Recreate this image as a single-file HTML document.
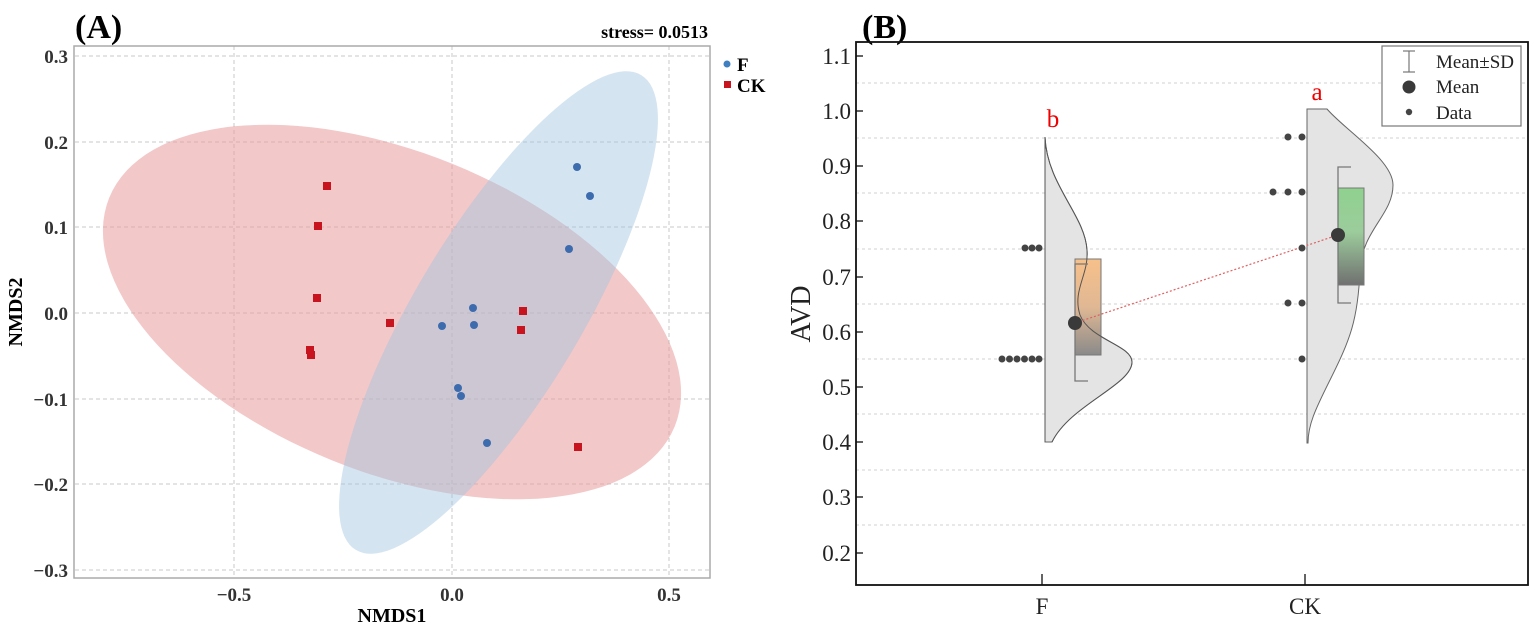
<!DOCTYPE html>
<html><head><meta charset="utf-8"><style>
html,body{margin:0;padding:0;background:#fff;}
svg{display:block;}
</style></head><body>
<svg width="1535" height="625" viewBox="0 0 1535 625" xmlns="http://www.w3.org/2000/svg">
<defs>
<linearGradient id="go" x1="0" y1="0" x2="0" y2="1"><stop offset="0" stop-color="#f7c08a"/><stop offset="0.5" stop-color="#e0b894"/><stop offset="1" stop-color="#8a8a8a"/></linearGradient>
<linearGradient id="gg" x1="0" y1="0" x2="0" y2="1"><stop offset="0" stop-color="#8fd18f"/><stop offset="0.45" stop-color="#9ccc9c"/><stop offset="1" stop-color="#707070"/></linearGradient>
</defs>
<!-- Panel A -->
<text x="75" y="38" font-family="Liberation Serif" font-weight="bold" font-size="34">(A)</text>
<text x="708" y="38" text-anchor="end" font-family="Liberation Serif" font-weight="bold" font-size="18">stress= 0.0513</text>
<g stroke="#c8c8c8" stroke-dasharray="4,3" stroke-width="1">
<line x1="75" x2="710" y1="56" y2="56"/><line x1="75" x2="710" y1="142" y2="142"/><line x1="75" x2="710" y1="227" y2="227"/><line x1="75" x2="710" y1="313" y2="313"/><line x1="75" x2="710" y1="399" y2="399"/><line x1="75" x2="710" y1="484" y2="484"/><line x1="75" x2="710" y1="570" y2="570"/>
<line x1="234" x2="234" y1="46" y2="578"/><line x1="452" x2="452" y1="46" y2="578"/><line x1="669" x2="669" y1="46" y2="578"/>
</g>
<ellipse cx="392" cy="312" rx="305" ry="160" transform="rotate(22 392 312)" fill="#e89a9c" fill-opacity="0.55"/>
<ellipse cx="498.5" cy="312.5" rx="277" ry="83" transform="rotate(-59 498.5 312.5)" fill="#9fc3e0" fill-opacity="0.45"/>
<rect x="74" y="46" width="636" height="532" fill="none" stroke="#aaa" stroke-width="1.5"/>
<g fill="#c8141e">
<rect x="323" y="182" width="8" height="8"/><rect x="314" y="222" width="8" height="8"/><rect x="313" y="294" width="8" height="8"/><rect x="386" y="319" width="8" height="8"/><rect x="519" y="307" width="8" height="8"/><rect x="517" y="326" width="8" height="8"/><rect x="306" y="346" width="8" height="8"/><rect x="307" y="351" width="8" height="8"/><rect x="574" y="443" width="8" height="8"/>
</g>
<g fill="#3d6cae">
<circle cx="577" cy="167" r="4"/><circle cx="590" cy="196" r="4"/><circle cx="569" cy="249" r="4"/><circle cx="473" cy="308" r="4"/><circle cx="474" cy="325" r="4"/><circle cx="442" cy="326" r="4"/><circle cx="458" cy="388" r="4"/><circle cx="461" cy="396" r="4"/><circle cx="487" cy="443" r="4"/>
</g>
<g font-family="Liberation Serif" font-weight="bold" font-size="19" fill="#333" text-anchor="end">
<text x="68" y="63">0.3</text><text x="68" y="149">0.2</text><text x="68" y="234">0.1</text><text x="68" y="320">0.0</text><text x="68" y="406">−0.1</text><text x="68" y="491">−0.2</text><text x="68" y="577">−0.3</text>
</g>
<g font-family="Liberation Serif" font-weight="bold" font-size="19" fill="#333" text-anchor="middle">
<text x="234" y="601">−0.5</text><text x="452" y="601">0.0</text><text x="669" y="601">0.5</text>
</g>
<text x="392" y="622" text-anchor="middle" font-family="Liberation Serif" font-weight="bold" font-size="20">NMDS1</text>
<text transform="translate(22 312) rotate(-90)" text-anchor="middle" font-family="Liberation Serif" font-weight="bold" font-size="20">NMDS2</text>
<circle cx="727" cy="64" r="3.5" fill="#3f7fc0"/>
<text x="737" y="71" font-family="Liberation Serif" font-weight="bold" font-size="19">F</text>
<rect x="724" y="81" width="7" height="7" fill="#c8141e"/>
<text x="737" y="92" font-family="Liberation Serif" font-weight="bold" font-size="19">CK</text>

<!-- Panel B -->
<text x="862" y="38" font-family="Liberation Serif" font-weight="bold" font-size="34">(B)</text>
<g stroke="#d0d0d0" stroke-dasharray="3,3" stroke-width="1">
<line x1="856" x2="1528" y1="83" y2="83"/><line x1="856" x2="1528" y1="138" y2="138"/><line x1="856" x2="1528" y1="193" y2="193"/><line x1="856" x2="1528" y1="249" y2="249"/><line x1="856" x2="1528" y1="304" y2="304"/><line x1="856" x2="1528" y1="359" y2="359"/><line x1="856" x2="1528" y1="414" y2="414"/><line x1="856" x2="1528" y1="470" y2="470"/><line x1="856" x2="1528" y1="525" y2="525"/>
</g>
<path d="M1045,442 L1045,137 C1047,185 1085,215 1087,250 C1089,275 1072,290 1080,315 C1090,340 1132,345 1132,362 C1132,385 1070,405 1052,442 Z" fill="#e4e4e4" stroke="#666" stroke-width="1"/>
<path d="M1307,443 L1307,109 L1327,109 C1345,130 1393,160 1393,185 C1393,215 1362,230 1360,270 C1358,320 1350,340 1330,380 C1315,410 1308,425 1308,443 Z" fill="#e4e4e4" stroke="#666" stroke-width="1"/>
<rect x="1075" y="259" width="26" height="96" fill="url(#go)" stroke="#777" stroke-width="1"/>
<rect x="1338" y="188" width="26" height="97" fill="url(#gg)" stroke="#777" stroke-width="1"/>
<path d="M1045,442 L1045,137 C1047,185 1085,215 1087,250 C1089,275 1072,290 1080,315 C1090,340 1132,345 1132,362 C1132,385 1070,405 1052,442" fill="none" stroke="#555" stroke-width="1"/>
<g stroke="#777" stroke-width="1.3" fill="none">
<path d="M1088,264 L1075,264 L1075,381 L1088,381"/>
<path d="M1351,167 L1338,167 L1338,303 L1351,303"/>
</g>
<line x1="1075" y1="323" x2="1338" y2="235" stroke="#e06060" stroke-width="1.2" stroke-dasharray="2,2"/>
<circle cx="1075" cy="323" r="7" fill="#3a3a3a"/>
<circle cx="1338" cy="235" r="7" fill="#3a3a3a"/>
<g fill="#444">
<circle cx="1025" cy="248" r="3.5"/><circle cx="1032" cy="248" r="3.5"/><circle cx="1039" cy="248" r="3.5"/>
<circle cx="1002" cy="359" r="3.5"/><circle cx="1009.5" cy="359" r="3.5"/><circle cx="1017" cy="359" r="3.5"/><circle cx="1024.5" cy="359" r="3.5"/><circle cx="1032" cy="359" r="3.5"/><circle cx="1039" cy="359" r="3.5"/>
<circle cx="1288" cy="137" r="3.5"/><circle cx="1302" cy="137" r="3.5"/>
<circle cx="1273" cy="192" r="3.5"/><circle cx="1288" cy="192" r="3.5"/><circle cx="1302" cy="192" r="3.5"/>
<circle cx="1302" cy="248" r="3.5"/>
<circle cx="1288" cy="303" r="3.5"/><circle cx="1302" cy="303" r="3.5"/>
<circle cx="1302" cy="359" r="3.5"/>
</g>
<text x="1053" y="127" text-anchor="middle" font-family="Liberation Serif" font-size="25" fill="#e00">b</text>
<text x="1317" y="100" text-anchor="middle" font-family="Liberation Serif" font-size="25" fill="#e00">a</text>
<rect x="856" y="42" width="672" height="543" fill="none" stroke="#111" stroke-width="1.8"/>
<g stroke="#111" stroke-width="1.3">
<line x1="856" x2="863" y1="56" y2="56"/><line x1="856" x2="863" y1="111" y2="111"/><line x1="856" x2="863" y1="166" y2="166"/><line x1="856" x2="863" y1="221" y2="221"/><line x1="856" x2="863" y1="277" y2="277"/><line x1="856" x2="863" y1="332" y2="332"/><line x1="856" x2="863" y1="387" y2="387"/><line x1="856" x2="863" y1="442" y2="442"/><line x1="856" x2="863" y1="497" y2="497"/><line x1="856" x2="863" y1="553" y2="553"/>
<line x1="1042" x2="1042" y1="574" y2="585"/><line x1="1305" x2="1305" y1="574" y2="585"/>
</g>
<g font-family="Liberation Serif" font-size="23" fill="#222" text-anchor="end">
<text x="851" y="64">1.1</text><text x="851" y="119">1.0</text><text x="851" y="174">0.9</text><text x="851" y="229">0.8</text><text x="851" y="285">0.7</text><text x="851" y="340">0.6</text><text x="851" y="395">0.5</text><text x="851" y="450">0.4</text><text x="851" y="505">0.3</text><text x="851" y="561">0.2</text>
</g>
<text x="1042" y="614" text-anchor="middle" font-family="Liberation Serif" font-size="23" fill="#222">F</text>
<text x="1305" y="614" text-anchor="middle" font-family="Liberation Serif" font-size="23" fill="#222">CK</text>
<text transform="translate(810 314) rotate(-90)" text-anchor="middle" font-family="Liberation Serif" font-size="28" fill="#222">AVD</text>
<rect x="1382" y="46" width="139" height="80" fill="#fff" stroke="#777" stroke-width="1.2"/>
<g stroke="#777" stroke-width="1.2"><line x1="1409" x2="1409" y1="51" y2="72"/><line x1="1403" x2="1415" y1="51" y2="51"/><line x1="1403" x2="1415" y1="72" y2="72"/></g>
<circle cx="1409" cy="87" r="6.5" fill="#3a3a3a"/>
<circle cx="1409" cy="112" r="3.2" fill="#444"/>
<g font-family="Liberation Serif" font-size="19" fill="#222">
<text x="1436" y="68">Mean±SD</text><text x="1436" y="93">Mean</text><text x="1436" y="119">Data</text>
</g>
</svg>
</body></html>
